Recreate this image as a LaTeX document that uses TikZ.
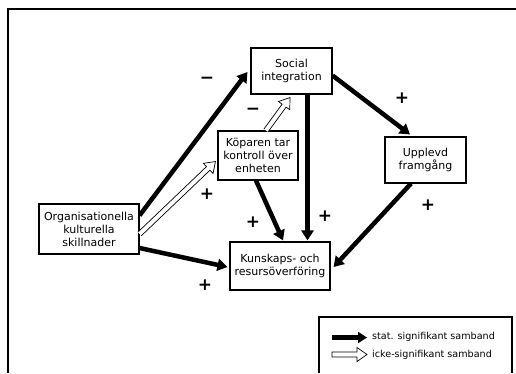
\documentclass[tikz,border=0pt]{standalone}
\usepackage{fontspec}
\setmainfont{DejaVu Sans}
\usetikzlibrary{arrows.meta,calc}
\tikzset{
  box/.style={draw, line width=1.1pt, inner sep=0pt, align=center, font=\fontsize{11}{13}\selectfont},
  sig/.style={line width=4.5pt, -{Triangle[length=10pt,width=12pt]}},
  hollow/.style={draw, line width=0.7pt, fill=white, line join=miter},
  sign/.style={font=\bfseries\fontsize{17}{17}\selectfont, inner sep=0pt},
  frame/.style={line width=1.2pt},
  legtext/.style={font=\fontsize{9.6}{11}\selectfont, anchor=west, inner sep=0pt}
}
% #1 start coordinate, #2 tip coordinate, #3 optional path end
\newcommand\hollowarrow[3]{%
  \coordinate (ha-b) at ($(#2)!10pt!(#1)$);
  \path[hollow] ($(#1)!2.5pt!90:(#2)$) -- ($(ha-b)!2.5pt!-90:(#1)$) -- ($(ha-b)!7pt!-90:(#1)$) -- (#2)
     -- ($(ha-b)!7pt!90:(#1)$) -- ($(ha-b)!2.5pt!90:(#1)$) -- ($(#1)!2.5pt!-90:(#2)$) #3;
}
\begin{document}
\begin{tikzpicture}[x=1pt,y=-1pt]
\useasboundingbox (0,0) rectangle (516,373);
\draw[frame] (8,373) -- (8,9) -- (516,9);

\node[box, minimum width=81pt, minimum height=46pt] (social) at (291.5,71) {Social\\integration};
\node[box, minimum width=80pt, minimum height=49pt] (kop) at (258,155.5) {Köparen tar\\kontroll över\\enheten};
\node[box, minimum width=81pt, minimum height=46pt] (upplevd) at (425.5,160) {Upplevd\\framgång};
\node[box, minimum width=100pt, minimum height=50pt] (org) at (89,229) {Organisationella\\kulturella\\skillnader};
\node[box, minimum width=100pt, minimum height=48pt] (kun) at (280,266) {Kunskaps- och\\resursöverföring};

% significant relations
\draw[sig] (org.15) -- ($(social.west)+(-3,1)$);
\draw[sig] ($(social.east)+(0,4.5)$) -- ($(upplevd.north)+(-15.5,-2)$);
\draw[sig] ($(social.south)+(16,0)$) -- ($(kun.north)+(27.5,-1)$);
\draw[sig] ($(kop.south)+(-2,0)$) -- ($(kun.north)+(3,-1)$);
\draw[sig] ($(upplevd.south)+(-14.5,0)$) -- ($(kun.east)+(3,1)$);
\draw[sig] ($(org.east)+(0,19)$) -- ($(kun.west)+(-2,1)$);

% non-significant relations
\coordinate (w1s) at ($(org.east)+(0,5)$);
\coordinate (w1e) at ($(kop.west)+(-2,6)$);
\hollowarrow{w1s}{w1e}{}
\coordinate (w2s) at ($(kop.north)+(8,0)$);
\coordinate (w2e) at ($(social.south)+(-1.5,3)$);
\hollowarrow{w2s}{w2e}{}

% signs
\node[sign] (s1) at (207,80) {−};
\node[sign] (s2) at (253,111) {−};
\node[sign] (s3) at (402,98) {+};
\node[sign] (s4) at (207,194) {+};
\node[sign] (s5) at (253,222) {+};
\node[sign] (s6) at (325,216) {+};
\node[sign] (s7) at (428,205) {+};
\node[sign] (s8) at (205,285) {+};

% legend
\draw[frame] (319,373) -- (319,317) -- (512,317) -- (512,373);
\coordinate (l1s) at (332,337.5);
\coordinate (l1e) at (367,337.5);
\draw[line width=5pt, -{Triangle[length=9pt,width=11pt]}] (l1s) -- (l1e);
\node[legtext] (t1) at (372,337) {stat. signifikant samband};
\coordinate (l2s) at (332,354.5);
\coordinate (l2e) at (367,354.5);
\hollowarrow{l2s}{l2e}{-- cycle}
\node[legtext] (t2) at (372,355) {icke-signifikant samband};
\end{tikzpicture}
\end{document}
